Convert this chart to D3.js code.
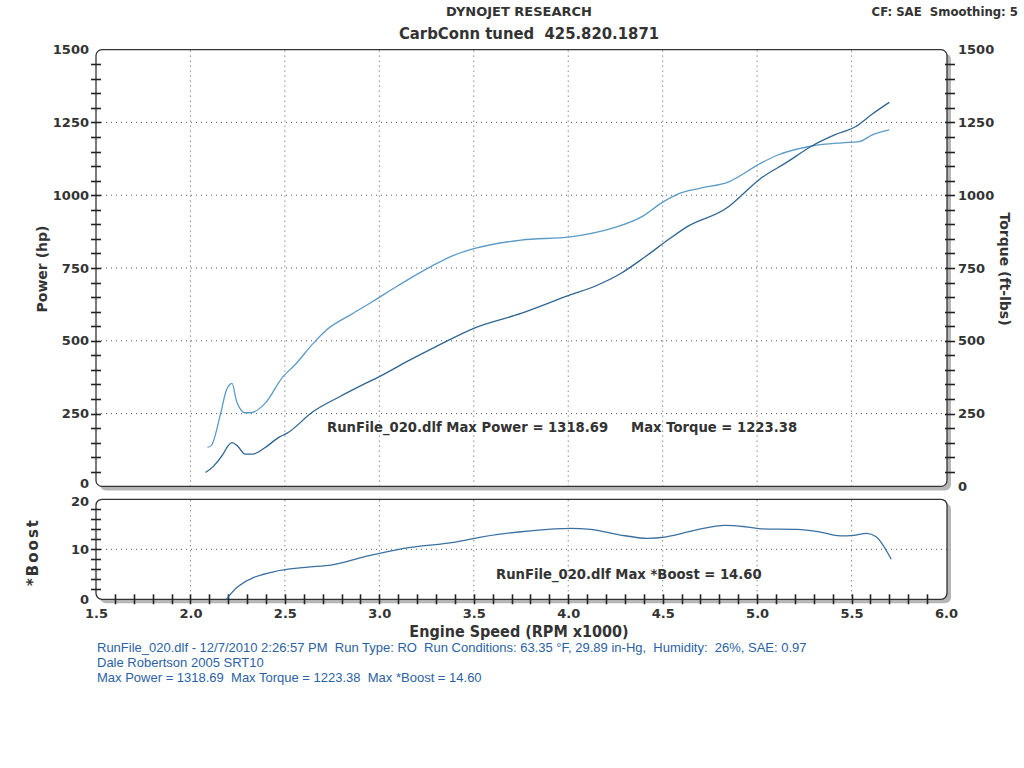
<!DOCTYPE html>
<meta charset="utf-8">
<style>
body { margin: 0; background: #fff; }
svg text { font-family: "DejaVu Sans", Verdana, sans-serif; font-weight: bold; fill: #333; }
.grid line { stroke: #555; stroke-width: 1; stroke-dasharray: 1,4; }
.info { font-family: "Liberation Sans", Arial, sans-serif; font-weight: normal !important; font-size: 13px; fill: #2b62a5 !important; }
</style>
<svg width="1024" height="768"></svg>
<script src="https://cdn.jsdelivr.net/npm/d3@7"></script>
<script>

// torque (ft-lbs) vs rpm x1000
var torqueRpm = [2.09, 2.11, 2.16, 2.19, 2.22, 2.245, 2.29, 2.32, 2.395, 2.49, 2.55, 2.65, 2.72, 2.85, 2.95,
                 3.1, 3.27, 3.4, 3.51, 3.75, 4.01, 4.23, 4.4, 4.49, 4.58, 4.7, 4.85, 5.02, 5.11, 5.29,
                 5.45, 5.54, 5.61, 5.70];
var torqueVals = [134, 140, 251, 330, 354, 291, 253, 253, 285, 377, 415, 491, 537, 590, 629,
                  690, 754, 795, 818, 846, 857, 886, 930, 972, 1004, 1024, 1046, 1110, 1138, 1169,
                  1180, 1184, 1207, 1224];

// power (hp)
var powerRpm = [2.08, 2.12, 2.17, 2.20, 2.22, 2.25, 2.29, 2.33, 2.39, 2.47, 2.51, 2.65, 2.79, 2.9, 3.0,
                3.15, 3.3, 3.5, 3.75, 4.0, 4.15, 4.28, 4.4, 4.54, 4.63, 4.85, 4.92, 5.02, 5.15, 5.29,
                5.41, 5.52, 5.61, 5.70];
var powerVals = [48, 68, 108, 140, 150, 138, 111, 111, 131, 169, 182, 257, 308, 345, 377,
                 430, 480, 543, 594, 655, 690, 732, 785, 852, 892, 961, 1001, 1058, 1110, 1169,
                 1207, 1235, 1279, 1319];

// *Boost
var boostRpm = [2.19, 2.25, 2.44, 2.61, 2.75, 2.92, 3.13, 3.41, 3.53, 3.80, 4.01, 4.12, 4.27, 4.42,
                4.52, 4.68, 4.83, 4.94, 5.02, 5.21, 5.33, 5.44, 5.51, 5.58, 5.63, 5.71];
var boostVals = [0, 2.5, 5.5, 6.4, 6.9, 8.5, 10.2, 11.5, 12.4, 13.7, 14.2, 14.0, 12.9, 12.2,
                 12.5, 13.9, 14.8, 14.5, 14.1, 14.0, 13.5, 12.7, 12.8, 13.2, 12.5, 8.0];

var rpmTicks = [1.5, 2.0, 2.5, 3.0, 3.5, 4.0, 4.5, 5.0, 5.5, 6.0];
var mainTicks = [0, 250, 500, 750, 1000, 1250, 1500];
var boostTicks = [0, 10, 20];

var svg = d3.select("svg");

var x = d3.scaleLinear().domain([1.5, 6.0]).range([96, 946]);
var yMain = d3.scaleLinear().domain([0, 1500]).range([486.4, 49.6]);
var yBoost = d3.scaleLinear().domain([0, 20]).range([599.3, 499.3]);
var left = 96, right = 947;

// panels with shadow
function panel(y0, y1) {
  svg.append("rect")
      .attr("x", left + 4).attr("y", y0 + 4)
      .attr("width", right - left).attr("height", y1 - y0)
      .attr("rx", 6).attr("fill", "#b5b5b5");
  svg.append("rect")
      .attr("x", left).attr("y", y0)
      .attr("width", right - left).attr("height", y1 - y0)
      .attr("rx", 6).attr("fill", "#fff");
}
panel(yMain(1500), yMain(0));
panel(yBoost(20), yBoost(0));

// grids
var grid = svg.append("g").attr("class", "grid");
grid.selectAll(".vm").data(rpmTicks.slice(1, -1)).enter().append("line")
    .attr("x1", x).attr("x2", x).attr("y1", yMain(1500) + 1).attr("y2", yMain(0));
grid.selectAll(".vb").data(rpmTicks.slice(1, -1)).enter().append("line")
    .attr("x1", x).attr("x2", x).attr("y1", yBoost(20) + 1).attr("y2", yBoost(0));
grid.selectAll(".hm").data(mainTicks.slice(1, -1)).enter().append("line")
    .attr("x1", left).attr("x2", right).attr("y1", yMain).attr("y2", yMain);
grid.append("line")
    .attr("x1", left).attr("x2", right).attr("y1", yBoost(10)).attr("y2", yBoost(10));

// borders
[[yMain(1500), yMain(0)], [yBoost(20), yBoost(0)]].forEach(function(p) {
  svg.append("rect")
      .attr("x", left).attr("y", p[0])
      .attr("width", right - left).attr("height", p[1] - p[0])
      .attr("rx", 6).attr("fill", "none")
      .attr("stroke", "#333").attr("stroke-width", 1.3);
});

// minor ticks crossing the axes
var minor = svg.append("g");
function hTicks(vals, scale, x1, x2) {
  vals.forEach(function(d) {
    var yy = Math.round(scale(d)) + 0.5;
    minor.append("line")
        .attr("x1", x1).attr("x2", x2).attr("y1", yy).attr("y2", yy)
        .attr("stroke", "#222").attr("stroke-width", 1.6);
  });
}
var mainMinor = d3.range(50, 1451, 50);
hTicks(mainMinor, yMain, left - 5, left + 5);
hTicks(mainMinor, yMain, right - 2, right + 8);
hTicks(d3.range(2, 19, 2), yBoost, left - 5, left + 5);
d3.range(16, 60).forEach(function(t) {
  var xx = Math.round(x(t / 10)) + 0.5;
  minor.append("line")
      .attr("x1", xx).attr("x2", xx)
      .attr("y1", yBoost(0) - 5).attr("y2", yBoost(0) + 5)
      .attr("stroke", "#222").attr("stroke-width", 1.6);
});

// tick labels
function labels(axis, g) {
  g.call(axis.tickSize(0));
  g.select(".domain").remove();
  g.selectAll("text").style("font-size", "13px").style("font-family", null);
  return g;
}
var fmt = d3.format("d");
labels(d3.axisLeft(yMain).tickValues(mainTicks).tickFormat(fmt).tickPadding(7),
    svg.append("g").attr("transform", "translate(" + left + ",0)"))
  .selectAll(".tick").filter(function(d) { return d === 0; }).select("text").attr("dy", "0.1em");
labels(d3.axisRight(yMain).tickValues(mainTicks).tickFormat(fmt).tickPadding(11),
    svg.append("g").attr("transform", "translate(" + right + ",0)"));
labels(d3.axisLeft(yBoost).tickValues(boostTicks).tickFormat(fmt).tickPadding(7),
    svg.append("g").attr("transform", "translate(" + left + ",0)"))
  .selectAll(".tick").filter(function(d) { return d === 20; }).select("text").attr("dy", "0.5em");
labels(d3.axisBottom(x).tickValues(rpmTicks).tickFormat(d3.format(".1f")).tickPadding(9),
    svg.append("g").attr("transform", "translate(0," + yBoost(0) + ")"));

// curves
function pts(r, v) { return r.map(function(d, i) { return [d, v[i]]; }); }
var lineMain = d3.line().x(function(d) { return x(d[0]); }).y(function(d) { return yMain(d[1]); })
    .curve(d3.curveMonotoneX);
var lineBoost = d3.line().x(function(d) { return x(d[0]); }).y(function(d) { return yBoost(d[1]); })
    .curve(d3.curveMonotoneX);

svg.append("path").attr("d", lineMain(pts(torqueRpm, torqueVals)))
    .attr("fill", "none").attr("stroke", "#5b9bc6").attr("stroke-width", 1.3);
svg.append("path").attr("d", lineMain(pts(powerRpm, powerVals)))
    .attr("fill", "none").attr("stroke", "#2f6591").attr("stroke-width", 1.3);
svg.append("path").attr("d", lineBoost(pts(boostRpm, boostVals)))
    .attr("fill", "none").attr("stroke", "#3a70a0").attr("stroke-width", 1.3);

// annotations
svg.append("text").attr("x", 327).attr("y", 432).style("font-size", "13.2px")
    .attr("xml:space", "preserve")
    .text("RunFile_020.dlf Max Power = 1318.69     Max Torque = 1223.38");
svg.append("text").attr("x", 496).attr("y", 579).style("font-size", "13.2px")
    .text("RunFile_020.dlf Max *Boost = 14.60");

// titles
svg.append("text").attr("x", 519).attr("y", 16).attr("text-anchor", "middle")
    .style("font-size", "13px")
    .text("DYNOJET RESEARCH");
svg.append("text").attr("x", 529).attr("y", 39).attr("text-anchor", "middle")
    .style("font-size", "16.5px").style("font-stretch", "condensed")
    .attr("xml:space", "preserve")
    .text("CarbConn tuned  425.820.1871");
svg.append("text").attr("x", 1018).attr("y", 16).attr("text-anchor", "end")
    .style("font-size", "13px").style("font-stretch", "condensed")
    .attr("xml:space", "preserve")
    .text("CF: SAE  Smoothing: 5");

svg.append("text").attr("x", 519).attr("y", 637).attr("text-anchor", "middle")
    .style("font-size", "16px").style("font-stretch", "condensed")
    .text("Engine Speed (RPM x1000)");
svg.append("text").attr("transform", "translate(47,269) rotate(-90)").attr("text-anchor", "middle")
    .style("font-size", "14px").text("Power (hp)");
svg.append("text").attr("transform", "translate(1000,269) rotate(90)").attr("text-anchor", "middle")
    .style("font-size", "14px").text("Torque (ft-lbs)");
svg.append("text").attr("transform", "translate(38,552) rotate(-90)").attr("text-anchor", "middle")
    .style("font-size", "15px").style("letter-spacing", "2px").text("*Boost");

// run info
var info = [
  "RunFile_020.dlf - 12/7/2010 2:26:57 PM  Run Type: RO  Run Conditions: 63.35 \u00b0F, 29.89 in-Hg,  Humidity:  26%, SAE: 0.97",
  "Dale Robertson 2005 SRT10",
  "Max Power = 1318.69  Max Torque = 1223.38  Max *Boost = 14.60"
];
svg.selectAll(".info").data(info).enter().append("text")
    .attr("class", "info")
    .attr("xml:space", "preserve")
    .attr("x", 97).attr("y", function(d, i) { return 652 + i * 14.8; })
    .text(function(d) { return d; });
</script>
